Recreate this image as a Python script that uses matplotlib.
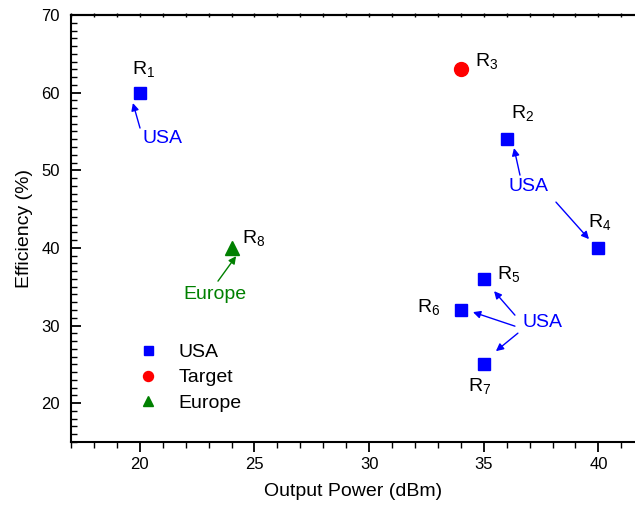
import matplotlib
matplotlib.use("Agg")
import matplotlib.pyplot as plt
from matplotlib.ticker import MultipleLocator

plt.rcParams['font.family'] = ['Liberation Sans', 'DejaVu Sans']
plt.rcParams['mathtext.fontset'] = 'custom'
plt.rcParams['mathtext.rm'] = 'Liberation Sans'
plt.rcParams['mathtext.it'] = 'Liberation Sans'

# Data
usa_x = [20, 36, 40, 35, 34, 35]
usa_y = [60, 54, 40, 36, 32, 25]
target_x = [34]
target_y = [63]
europe_x = [24]
europe_y = [40]

# Point labels (text, x, y) in data coordinates
point_labels = [
    ("R$_1$", 19.66, 62.4),
    ("R$_2$", 36.19, 56.7),
    ("R$_3$", 34.62, 63.4),
    ("R$_4$", 39.55, 42.7),
    ("R$_5$", 35.58, 36.0),
    ("R$_6$", 32.09, 31.7),
    ("R$_7$", 34.31, 21.55),
    ("R$_8$", 24.46, 40.6),
]

fig = plt.figure(figsize=(6.35, 5.07), dpi=100)
ax = fig.add_axes([71/635, 1-442/507, 564/635, 427/507])

ax.plot(usa_x, usa_y, 's', color='#0000FF', ms=9, label='USA', ls='none')
ax.plot(target_x, target_y, 'o', color='#FF0000', ms=10, label='Target', ls='none')
ax.plot(europe_x, europe_y, '^', color='#008000', ms=10.5, label='Europe', ls='none')

for t, x, y in point_labels:
    ax.text(x, y, t, fontsize=14, ha='left', va='baseline', color='black')

blue = '#0000FF'
green = '#008000'
ap = dict(arrowstyle='-|>', lw=1.0, mutation_scale=11, shrinkA=0, shrinkB=0)

# USA annotation near R1
ax.text(21.01, 54.15, 'USA', color=blue, fontsize=14, ha='center', va='center')
ax.annotate('', xy=(19.70, 58.66), xytext=(20.01, 55.44), arrowprops=dict(ap, color=blue))

# USA annotation for R2 & R4
ax.text(36.97, 47.96, 'USA', color=blue, fontsize=14, ha='center', va='center')
ax.annotate('', xy=(36.32, 52.86), xytext=(36.58, 49.38), arrowprops=dict(ap, color=blue))
ax.annotate('', xy=(39.59, 41.13), xytext=(38.15, 45.90), arrowprops=dict(ap, color=blue))

# USA annotation for R5, R6, R7
ax.text(37.58, 30.44, 'USA', color=blue, fontsize=14, ha='center', va='center')
ax.annotate('', xy=(35.45, 34.43), xytext=(36.36, 31.34), arrowprops=dict(ap, color=blue))
ax.annotate('', xy=(34.53, 31.73), xytext=(36.36, 29.92), arrowprops=dict(ap, color=blue))
ax.annotate('', xy=(35.53, 26.70), xytext=(36.49, 29.02), arrowprops=dict(ap, color=blue))

# Europe annotation
ax.text(23.28, 34.05, 'Europe', color=green, fontsize=14, ha='center', va='center')
ax.annotate('', xy=(24.20, 38.94), xytext=(23.41, 35.72), arrowprops=dict(ap, color=green))

ax.set_xlim(17, 17 + 564/22.93)
ax.set_ylim(15, 70)
ax.xaxis.set_major_locator(MultipleLocator(5))
ax.xaxis.set_minor_locator(MultipleLocator(1))
ax.yaxis.set_major_locator(MultipleLocator(10))
ax.yaxis.set_minor_locator(MultipleLocator(1))

for s in ['left', 'bottom', 'top']:
    ax.spines[s].set_linewidth(1.5)
ax.spines['right'].set_visible(False)

ax.tick_params(axis='y', which='both', direction='in', left=True, right=False,
               labelsize=12, pad=8)
ax.tick_params(axis='y', which='major', length=7, width=1.3)
ax.tick_params(axis='y', which='minor', length=4, width=1.0)
ax.tick_params(axis='x', which='both', direction='out', bottom=True, top=False,
               labelsize=12, pad=4)
ax.tick_params(axis='x', which='major', length=7, width=1.3)
ax.tick_params(axis='x', which='minor', length=4, width=1.0)

sec = ax.secondary_xaxis('top')
sec.xaxis.set_major_locator(MultipleLocator(1))
sec.tick_params(axis='x', which='major', direction='inout', length=3, width=1.0, labeltop=False)
sec.spines['top'].set_linewidth(1.5)

ax.set_xlabel('Output Power (dBm)', fontsize=14, labelpad=8)
ax.set_ylabel('Efficiency (%)', fontsize=14, labelpad=6)

leg = ax.legend(loc='upper left', bbox_to_anchor=(0.115, 0.231), frameon=False,
                fontsize=14, markerscale=0.72, handlelength=1.2, handletextpad=1.0,
                labelspacing=0.40, borderaxespad=0, borderpad=0)

fig.savefig('out.png', dpi=100)
